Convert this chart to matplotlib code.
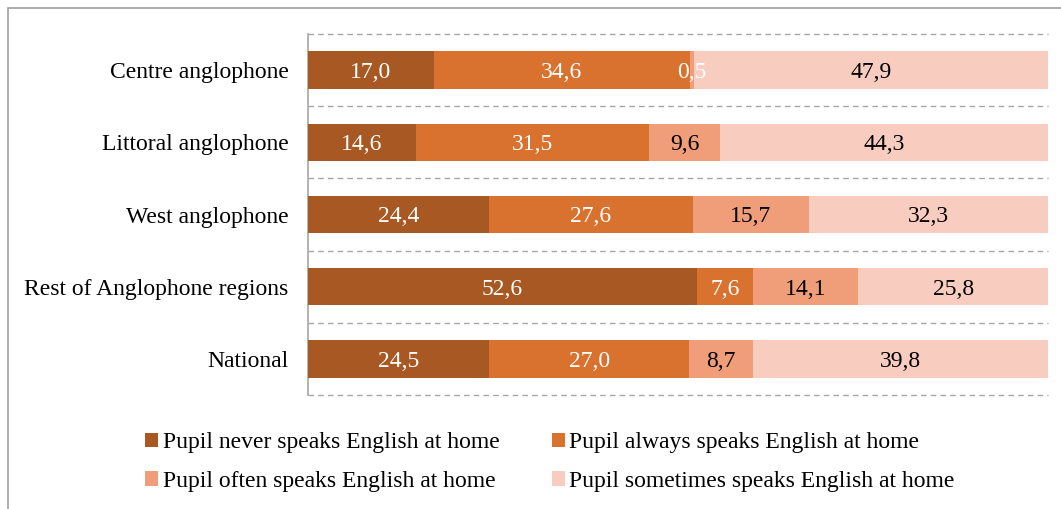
import numpy as np
import matplotlib.pyplot as plt
from matplotlib.patches import Rectangle

plt.rcParams['font.family'] = ['Liberation Serif', 'DejaVu Serif']

########
# Data
regions = ['Centre anglophone', 'Littoral anglophone', 'West anglophone',
           'Rest of Anglophone regions', 'National']
never = [17.0, 14.6, 24.4, 52.6, 24.5]
always = [34.6, 31.5, 27.6, 7.6, 27.0]
often = [0.5, 9.6, 15.7, 14.1, 8.7]
sometimes = [47.9, 44.3, 32.3, 25.8, 39.8]
series_names = ['Pupil never speaks English at home',
                'Pupil always speaks English at home',
                'Pupil often speaks English at home',
                'Pupil sometimes speaks English at home']

colors = ['#A85823', '#D9722E', '#F09E7A', '#F8CCBF']
text_colors = ['white', 'white', 'black', 'black']
FS = 17

########
fig = plt.figure(figsize=(10.61, 5.09), dpi=100)
ax = fig.add_axes([308/1061, 1 - 395/509, 740/1061, 361/509])

y = np.arange(len(regions))
left = np.zeros(len(regions))
handles = []
for vals, col, tcol, name in zip([never, always, often, sometimes], colors,
                                 text_colors, series_names):
    vals = np.array(vals)
    h = ax.barh(y, vals, left=left, height=0.52, color=col, label=name, zorder=3)
    handles.append(h)
    for yi, v, l in zip(y, vals, left):
        # the tiny 0,5 slice keeps white text like the dark segments
        c = 'white' if v < 1 else tcol
        ax.text(l + v / 2, yi, f'{v:.1f}'.replace('.', ','), ha='center',
                va='center_baseline', color=c, fontsize=FS, zorder=4)
    left += vals

ax.set_xlim(0, 100)
ax.set_ylim(len(regions) - 0.5, -0.5)
ax.set_yticks(y)
ax.set_yticklabels(regions, fontsize=FS)
ax.tick_params(axis='y', length=0, pad=14)
ax.set_xticks([])

# dashed separators between categories
for b in np.arange(-0.5, len(regions), 1.0):
    ax.axhline(b, color='#A6A6A6', lw=1, ls=(0, (4, 3)), zorder=1, clip_on=False)

for s in ['top', 'right', 'bottom']:
    ax.spines[s].set_visible(False)
ax.spines['left'].set_color('#A6A6A6')
ax.spines['left'].set_linewidth(1.2)

# legend reads row-wise: never, always / often, sometimes
order = [0, 2, 1, 3]
fig.legend([handles[i] for i in order], [series_names[i] for i in order],
           loc='upper left', bbox_to_anchor=(124/1061, 1 - 411/509),
           ncol=2, frameon=False, fontsize=FS, handlelength=0.55,
           handleheight=0.55, handletextpad=0.2, columnspacing=2.2,
           labelspacing=0.75)

# outer frame (only left and top edges visible in the crop)
fig.patches.append(Rectangle((8/1061, -0.1), 1.2, 1 - 8/509 + 0.1,
                             transform=fig.transFigure, fill=False,
                             edgecolor='#A0A0A0', lw=1.2))

fig.savefig('out.png', dpi=100)
